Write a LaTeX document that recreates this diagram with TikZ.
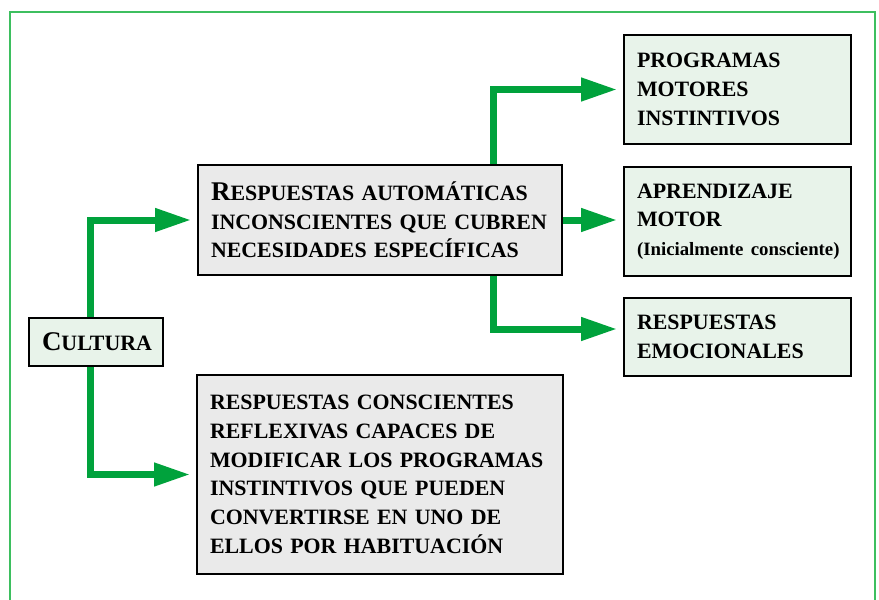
\documentclass[tikz,border=0pt]{standalone}
\usepackage{fontspec}
\setmainfont{Liberation Serif}
\usetikzlibrary{arrows.meta, positioning, calc}
\definecolor{cjVerde}{HTML}{00A23C}
\definecolor{cjMarco}{HTML}{3DBF5F}
\definecolor{cjGris}{HTML}{EAEAEA}
\definecolor{cjClaro}{HTML}{E8F3EA}
\newcommand{\inicial}[1]{{\fontsize{27}{28.7}\selectfont #1}}

\begin{document}
\begin{tikzpicture}[x=1pt, y=-1pt,
  caja/.style={draw=black, line width=1.6pt, align=left, inner xsep=13pt, inner ysep=0pt,
               font=\bfseries\fontsize{21.9}{28.7}\selectfont},
  flecha/.style={draw=cjVerde, line width=7pt, -{Triangle[length=36pt,width=22pt]}, shorten >=6pt}]
  \useasboundingbox (0,0) rectangle (879,600);
  % marco verde
  \draw[cjMarco, line width=1.2pt] (10,600) -- (10,12) -- (875,12) -- (875,600);
  % cajas
  \node[caja, fill=cjClaro, align=center, text width=108pt, minimum height=48pt] (cultura) at (96,342)
    {\mbox{\inicial{C}ULTURA}};
  \node[caja, fill=cjGris, text width=338pt, minimum height=110pt] (auto) at (380,220)
    {\mbox{\inicial{R}ESPUESTAS AUTOMÁTICAS}\\ \mbox{INCONSCIENTES QUE CUBREN}\\ \mbox{NECESIDADES ESPECÍFICAS}};
  \node[caja, fill=cjGris, text width=340pt, minimum height=199pt] (consc) at (380,474.5)
    {RESPUESTAS CONSCIENTES\\ REFLEXIVAS CAPACES DE\\ \mbox{MODIFICAR LOS PROGRAMAS}\\
     INSTINTIVOS QUE PUEDEN\\ CONVERTIRSE EN UNO DE\\ ELLOS POR HABITUACIÓN};
  \node[caja, fill=cjClaro, text width=201pt, minimum height=109pt] (prog) at (737.5,89.5)
    {PROGRAMAS\\ MOTORES\\ INSTINTIVOS};
  \node[caja, fill=cjClaro, text width=201pt, minimum height=109pt] (aprend) at (737.5,221.5)
    {APRENDIZAJE\\ MOTOR\\ {\fontsize{18.8}{28.7}\selectfont\mbox{(Inicialmente consciente)}}};
  \node[caja, fill=cjClaro, text width=201pt, minimum height=78pt] (emoc) at (737.5,337)
    {RESPUESTAS\\ EMOCIONALES};
  % flechas
  \draw[flecha] ([xshift=-6pt]cultura.north) |- (auto.west);
  \draw[flecha] ([xshift=-6pt]cultura.south) |- (consc.west);
  \draw[flecha] ([xshift=113pt]auto.north) |- (prog.west);
  \draw[flecha] (auto.east) -- (auto.east -| aprend.west);
  \draw[flecha] ([xshift=113pt]auto.south) |- ([yshift=8pt]emoc.west);
\end{tikzpicture}
\end{document}
